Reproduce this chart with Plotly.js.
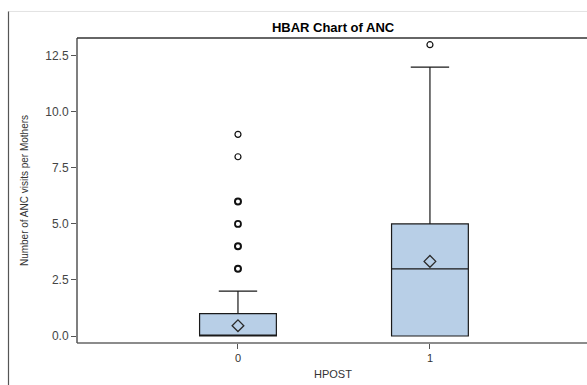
<!DOCTYPE html>
<html>
<head>
<meta charset="utf-8">
<script src="https://cdn.plot.ly/plotly-3.0.1.min.js"></script>
<style>html,body{margin:0;padding:0;background:#fff;overflow:hidden;}#chart{width:587px;height:385px;overflow:hidden;}</style>
</head>
<body>
<div id="chart"></div>
<script>
var categories = ['0', '1'];
var q1Values = [0, 0];
var medianValues = [0, 3];
var q3Values = [1, 5];
var lowerWhisker = [0, 0];
var upperWhisker = [2, 12];
var meanValues = [0.46, 3.33];
var outlierGroup = ['0', '0', '0', '0', '0', '0', '1'];
var outlierValues = [3, 4, 5, 6, 8, 9, 13];
var outlierWeight = [2, 2, 1.8, 2, 1.2, 1.2, 1.2];

var font = 'Liberation Sans, Arial, sans-serif';

var traces = [
  {
    type: 'box',
    x: categories,
    q1: q1Values,
    median: medianValues,
    q3: q3Values,
    lowerfence: lowerWhisker,
    upperfence: upperWhisker,
    width: 0.4,
    whiskerwidth: 0.5,
    fillcolor: 'rgb(184,207,231)',
    line: {color: '#1a1a1a', width: 1.2},
    boxpoints: false,
    showlegend: false,
    hoverinfo: 'skip'
  },
  {
    type: 'scatter',
    mode: 'markers',
    x: categories,
    y: meanValues,
    marker: {symbol: 'diamond-open', size: 9, color: '#2a2a2a', line: {width: 1.3, color: '#2a2a2a'}},
    showlegend: false,
    hoverinfo: 'skip'
  },
  {
    type: 'scatter',
    mode: 'markers',
    x: outlierGroup,
    y: outlierValues,
    marker: {symbol: 'circle-open', size: 6, color: '#111', line: {width: outlierWeight, color: '#111'}},
    showlegend: false,
    hoverinfo: 'skip'
  }
];

var layout = {
  width: 620,
  height: 385,
  margin: {l: 77, r: 0, t: 38, b: 42},
  paper_bgcolor: '#fff',
  plot_bgcolor: '#fff',
  font: {family: font, size: 11, color: '#333'},
  title: {
    text: '<b>HBAR Chart of ANC</b>',
    font: {family: font, size: 13, color: '#000'},
    x: 0.4715, xref: 'paper', xanchor: 'center',
    y: 0.93, yref: 'container', yanchor: 'middle'
  },
  xaxis: {
    type: 'category',
    range: [-0.8385, 1.990],
    showline: false, mirror: false,
    ticks: 'outside', ticklen: 5, tickcolor: '#555',
    showgrid: false, zeroline: false,
    tickfont: {family: font, size: 11, color: '#333'}
  },
  yaxis: {
    range: [-0.3125, 13.30],
    tickvals: [0, 2.5, 5, 7.5, 10, 12.5],
    ticktext: ['0.0', '2.5', '5.0', '7.5', '10.0', '12.5'],
    showline: false, mirror: false, side: 'left',
    ticks: 'outside', ticklen: 5, tickcolor: '#555',
    showgrid: false, zeroline: false,
    tickfont: {family: font, size: 12, color: '#444'},
    title: {text: 'Number of ANC visits per Mothers', font: {family: font, size: 10, color: '#333'}, standoff: 14}
  },
  annotations: [
    {text: 'HPOST', xref: 'paper', yref: 'paper', x: 0.4715, y: -0.101, xanchor: 'center', yanchor: 'middle',
     showarrow: false, font: {family: font, size: 11, color: '#333'}}
  ],
  shapes: [
    {type: 'line', xref: 'paper', yref: 'paper', x0: 0, x1: 1, y0: 0, y1: 0, line: {color: '#666', width: 1.5}},
    {type: 'line', xref: 'paper', yref: 'paper', x0: 0, x1: 0, y0: 0, y1: 1, line: {color: '#555', width: 1.5}},
    {type: 'line', xref: 'paper', yref: 'paper', x0: 0, x1: 1, y0: 1, y1: 1, line: {color: '#333', width: 1.5}},
    {type: 'line', xref: 'paper', yref: 'paper', x0: -0.12615, x1: 1, y0: 1.087, y1: 1.087, line: {color: '#e2e2e2', width: 1}},
    {type: 'line', xref: 'paper', yref: 'paper', x0: -0.12615, x1: -0.12615, y0: 1.087, y1: -0.2, line: {color: '#555', width: 1.2}}
  ]
};

Plotly.newPlot('chart', traces, layout, {displayModeBar: false});
</script>
</body>
</html>
